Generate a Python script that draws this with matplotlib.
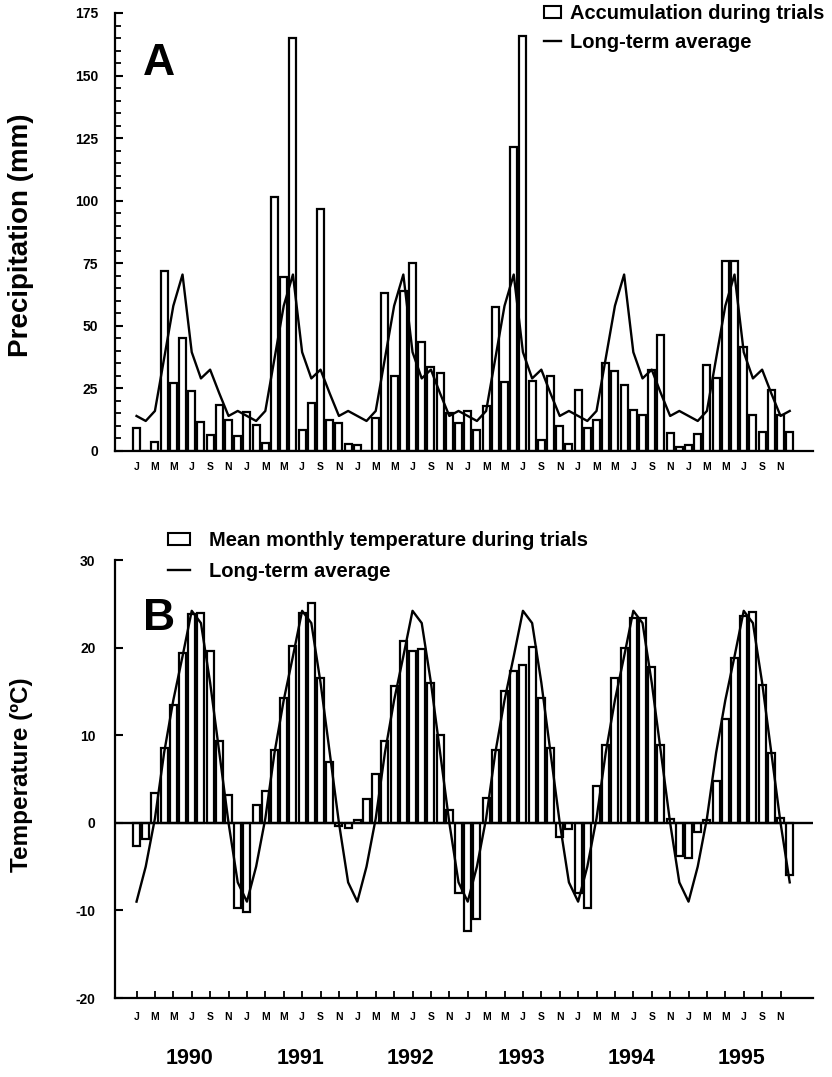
import numpy as np
import matplotlib
matplotlib.use("Agg")
import matplotlib.pyplot as plt
from matplotlib.patches import Patch
from matplotlib.lines import Line2D
from matplotlib import transforms

plt.rcParams['font.family'] = ['Liberation Sans', 'DejaVu Sans']
plt.rcParams['font.weight'] = 'bold'
plt.rcParams['axes.unicode_minus'] = False

# Data (monthly, Jan 1990 - Dec 1995)
years = ['1990', '1991', '1992', '1993', '1994', '1995']
month_letters = ['J', 'M', 'M', 'J', 'S', 'N']

precip = [9.3, 0, 3.5, 72, 27, 45, 24, 11.5, 6.5, 18.5, 12.5, 6,
          15.5, 10.5, 3, 101.5, 69.5, 165, 8.5, 19, 96.5, 12.5, 11, 2.7,
          2.5, 0, 13, 63, 30, 64, 75, 43.5, 33.5, 31, 15, 11,
          16, 8.5, 18, 57.5, 27.5, 121.5, 166, 28, 4.5, 30, 10, 2.7,
          24.5, 9, 12.5, 35, 32, 26.5, 16.5, 14.5, 32.5, 46.5, 7, 1.5,
          2.5, 6.8, 34.5, 29, 76, 76, 41.5, 14.5, 7.5, 24.5, 14.5, 7.5]
# long-term monthly average precipitation (J..D)
precip_avg = [14, 12, 16, 37, 58, 70.5, 39.5, 29, 32.5, 23, 14, 16]

temp = [-2.7, -1.9, 3.4, 8.5, 13.5, 19.4, 23.8, 24.0, 19.6, 9.3, 3.2, -9.7,
        -10.2, 2.0, 3.6, 8.3, 14.2, 20.2, 24.0, 25.1, 16.5, 6.9, -0.4, -0.6,
        0.3, 2.7, 5.6, 9.3, 15.6, 20.7, 19.6, 19.8, 16.0, 10.0, 1.5, -8.0,
        -12.4, -11.0, 2.8, 8.3, 15.1, 17.3, 18.0, 20.1, 14.2, 8.5, -1.6, -0.7,
        -8.0, -9.7, 4.2, 8.9, 16.5, 19.9, 23.4, 23.4, 17.8, 8.9, 0.4, -3.8,
        -4.0, -1.0, 0.3, 4.8, 11.9, 18.8, 23.6, 24.1, 15.7, 8.0, 0.6, -6.0]
# long-term monthly average temperature (J..D)
temp_avg = [-9.0, -5.0, 0.5, 8.0, 14.0, 19.0, 24.2, 22.8, 16.0, 8.0, 0.0, -6.8]

months = np.arange(len(precip))
precip_line = np.tile(precip_avg, len(years))
temp_line = np.tile(temp_avg, len(years))

W, H = 832, 1077
fig = plt.figure(figsize=(W / 100, H / 100), dpi=100)
ax1 = fig.add_axes([115 / W, 626 / H, 698 / W, 438 / H])
ax2 = fig.add_axes([115 / W, 79 / H, 698 / W, 438 / H])

xlim = (-2.34, 73.53)
tick_pos = months[::2]
tick_lab = month_letters * len(years)
bar_w = 0.76
bar_lw = 1.6

# Panel A: precipitation
ax1.bar(months, precip, width=bar_w, facecolor='white', edgecolor='black',
        linewidth=bar_lw, zorder=2)
ax1.plot(months, precip_line, color='black', lw=1.7, zorder=3)
ax1.set_xlim(*xlim)
ax1.set_ylim(0, 175)
ax1.set_yticks(np.arange(0, 176, 25))
ax1.set_yticks(np.arange(0, 176, 5), minor=True)
ax1.set_xticks(tick_pos)
ax1.set_xticklabels(tick_lab, fontsize=7.5, fontweight='bold')
ax1.tick_params(axis='x', length=0, pad=8)
ax1.tick_params(axis='y', which='major', direction='in', length=6, width=1.5,
                pad=12, labelsize=10)
ax1.tick_params(axis='y', which='minor', direction='in', length=4, width=1.3)
for s in ['top', 'right']:
    ax1.spines[s].set_visible(False)
for s in ['left', 'bottom']:
    ax1.spines[s].set_linewidth(1.6)
fig.text(21 / W, 1 - 235 / H, 'Precipitation (mm)', rotation=90,
         ha='center', va='center', fontsize=20, fontweight='bold')
fig.text(143 / W, 1 - 75 / H, 'A', fontsize=32, fontweight='bold')
fig.legend(handles=[Patch(facecolor='white', edgecolor='black', linewidth=1.5),
                    Line2D([], [], color='black', lw=1.7)],
           labels=['Accumulation during trials', 'Long-term average'],
           loc='upper left', bbox_to_anchor=(544 / W, 1 - 4 / H),
           frameon=False, fontsize=14.5, handlelength=0.85, handleheight=0.55,
           handletextpad=0.45, labelspacing=0.5, borderpad=0, borderaxespad=0)

# Panel B: temperature
ax2.bar(months, temp, width=bar_w, facecolor='white', edgecolor='black',
        linewidth=bar_lw, zorder=2)
ax2.plot(months, temp_line, color='black', lw=1.7, zorder=3)
ax2.axhline(0, color='black', lw=1.7, zorder=4)
ax2.set_xlim(*xlim)
ax2.set_ylim(-20, 30)
ax2.set_yticks(np.arange(-20, 31, 10))
ax2.set_xticks(tick_pos)
ax2.set_xticklabels(tick_lab, fontsize=7.5, fontweight='bold')
ax2.tick_params(axis='x', direction='in', length=5, width=1.3, pad=10)
ax2.tick_params(axis='y', direction='in', length=6, width=1.5, pad=14,
                labelsize=10)
for s in ['top', 'right']:
    ax2.spines[s].set_visible(False)
for s in ['left', 'bottom']:
    ax2.spines[s].set_linewidth(1.6)
fig.text(22 / W, 1 - 775 / H, 'Temperature (ºC)', rotation=90,
         ha='center', va='center', fontsize=17.5, fontweight='bold')
fig.text(143 / W, 1 - 630 / H, 'B', fontsize=32, fontweight='bold')
fig.legend(handles=[Patch(facecolor='white', edgecolor='black', linewidth=1.5),
                    Line2D([], [], color='black', lw=1.7)],
           labels=['Mean monthly temperature during trials', 'Long-term average'],
           loc='upper left', bbox_to_anchor=(168 / W, 1 - 531 / H),
           frameon=False, fontsize=14.5, handlelength=1.1, handleheight=0.55,
           handletextpad=0.95, labelspacing=0.6, borderpad=0, borderaxespad=0)

# year labels under the month labels
trans = transforms.blended_transform_factory(ax2.transData, fig.transFigure)
for i, yr in enumerate(years):
    ax2.text(12 * i + 5.8, 1 - 1058 / H, yr, transform=trans, ha='center',
             va='center', fontsize=15.5, fontweight='bold')

fig.savefig('out.png', dpi=100)
